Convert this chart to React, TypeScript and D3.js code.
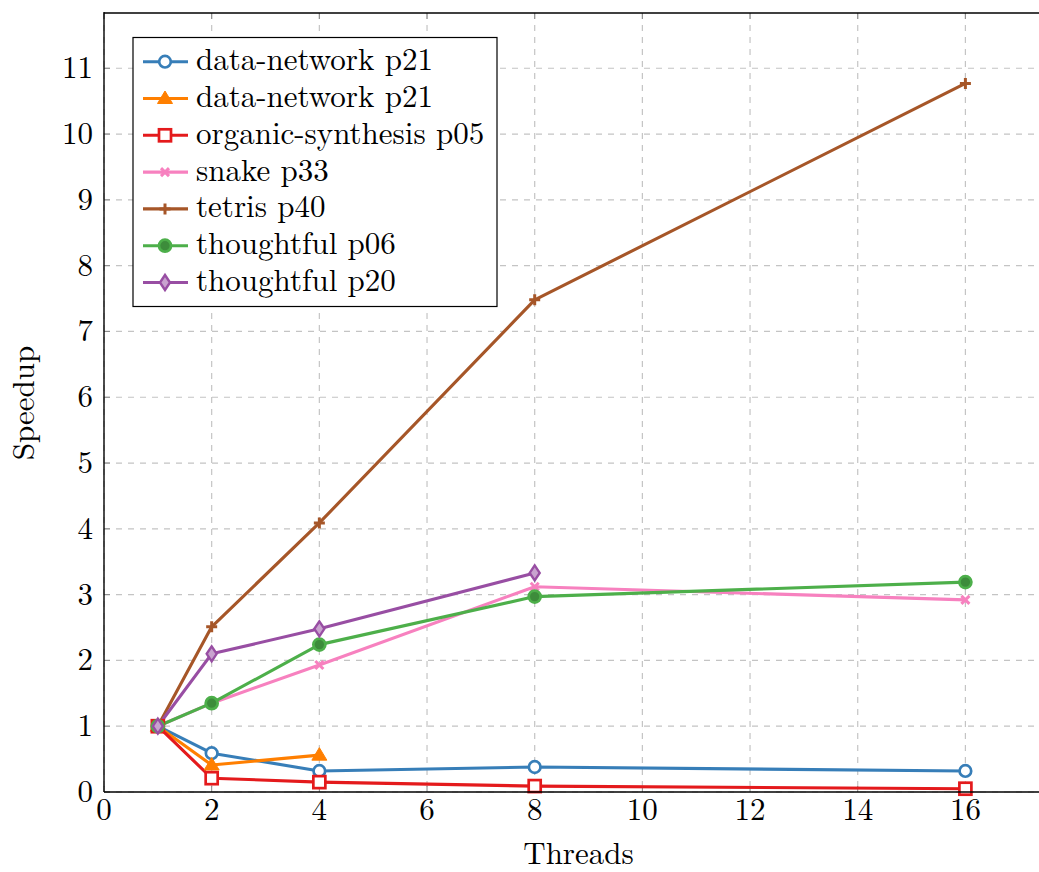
import React from "react";
import * as d3 from "d3";

const threads = [1, 2, 4, 8, 16];
const dataNetworkA = [1, 0.59, 0.32, 0.38, 0.32];
const dataNetworkB = [1, 0.41, 0.56];
const organicSynthesis = [1, 0.21, 0.15, 0.09, 0.05];
const snake = [1, 1.35, 1.93, 3.12, 2.92];
const tetris = [1, 2.51, 4.09, 7.48, 10.77];
const thoughtful06 = [1, 1.35, 2.24, 2.97, 3.19];
const thoughtful20 = [1, 2.1, 2.48, 3.33];

const xTicks = [0, 2, 4, 6, 8, 10, 12, 14, 16];
const yTicks = [0, 1, 2, 3, 4, 5, 6, 7, 8, 9, 10, 11];

type Series = { name: string; values: number[]; color: string; marker: string };
const series: Series[] = [
  { name: "data-network p21", values: dataNetworkA, color: "#377eb8", marker: "circleOpen" },
  { name: "data-network p21", values: dataNetworkB, color: "#ff7f00", marker: "triangle" },
  { name: "organic-synthesis p05", values: organicSynthesis, color: "#e41a1c", marker: "squareOpen" },
  { name: "snake p33", values: snake, color: "#f781bf", marker: "x" },
  { name: "tetris p40", values: tetris, color: "#a65628", marker: "plus" },
  { name: "thoughtful p06", values: thoughtful06, color: "#4daf4a", marker: "circle" },
  { name: "thoughtful p20", values: thoughtful20, color: "#984ea3", marker: "diamond" },
];

const FONT = `"Latin Modern Roman", "Liberation Serif", serif`;
const FS = 31;

function Marker({ kind, x, y, color }: { kind: string; x: number; y: number; color: string }) {
  switch (kind) {
    case "circleOpen":
      return <circle cx={x} cy={y} r={5.8} fill="white" stroke={color} strokeWidth={2.7} />;
    case "triangle":
      return <path d={`M${x},${y - 7.5} L${x + 7.5},${y + 5} L${x - 7.5},${y + 5} Z`} fill={color} stroke={color} strokeWidth={1} />;
    case "squareOpen":
      return <rect x={x - 6} y={y - 6} width={12} height={12} fill="white" stroke={color} strokeWidth={2.7} />;
    case "x":
      return <path d={`M${x - 4},${y - 4} L${x + 4},${y + 4} M${x - 4},${y + 4} L${x + 4},${y - 4}`} stroke={color} strokeWidth={3} />;
    case "plus":
      return <path d={`M${x - 5.5},${y} L${x + 5.5},${y} M${x},${y - 5.5} L${x},${y + 5.5}`} stroke={color} strokeWidth={3} />;
    case "circle":
      return <circle cx={x} cy={y} r={6} fill="#3d8c3b" stroke={color} strokeWidth={2.7} />;
    case "diamond":
      return <path d={`M${x},${y - 7.5} L${x + 5},${y} L${x},${y + 7.5} L${x - 5},${y} Z`} fill="#c9a3cf" stroke={color} strokeWidth={2.4} />;
    default:
      return null;
  }
}

export default function App() {
  const W = 1039, H = 872;
  const left = 104, right = 1037, top = 13, bottom = 792;
  const x = d3.scaleLinear().domain([0, 17.33]).range([left, right]);
  const y = d3.scaleLinear().domain([0, 11.84]).range([bottom, top]);
  const line = d3.line<[number, number]>().x((d) => x(d[0])).y((d) => y(d[1]));

  const legX = 133, legY = 37.5, legW = 364, legRow = 36.8;
  const txt = { fontFamily: FONT };

  return (
    <svg width={W} height={H} style={{ position: "absolute", left: 0, top: 0, fontFamily: FONT }}>
      <rect width={W} height={H} fill="white" />
      <defs>
        <clipPath id="plot">
          <rect x={left} y={top} width={right - left + 5} height={bottom - top} />
        </clipPath>
      </defs>
      {xTicks.map((t) => (
        <line key={"gx" + t} x1={x(t)} x2={x(t)} y1={top} y2={bottom} stroke="#c4c4c4" strokeWidth={1.2} strokeDasharray="6,6" />
      ))}
      {yTicks.map((t) => (
        <line key={"gy" + t} x1={left} x2={W} y1={y(t)} y2={y(t)} stroke="#c4c4c4" strokeWidth={1.2} strokeDasharray="6,6" />
      ))}
      {xTicks.map((t) => (
        <g key={"tx" + t}>
          <line x1={x(t)} x2={x(t)} y1={bottom} y2={bottom - 6} stroke="#888" strokeWidth={1} />
          <line x1={x(t)} x2={x(t)} y1={top} y2={top + 6} stroke="#888" strokeWidth={1} />
        </g>
      ))}
      {yTicks.map((t) => (
        <line key={"ty" + t} x1={left} x2={left + 6} y1={y(t)} y2={y(t)} stroke="#888" strokeWidth={1} />
      ))}
      <g clipPath="url(#plot)">
        {series.map((s, i) => {
          const pts: [number, number][] = s.values.map((v, j) => [threads[j], v]);
          return (
            <path key={"l" + i} d={line(pts) || ""} fill="none" stroke={s.color} strokeWidth={3.1} strokeLinejoin="round" />
          );
        })}
      </g>
      {series.map((s, i) => (
        <g key={"m" + i}>
          {s.values.map((v, j) => (
            <Marker key={j} kind={s.marker} x={x(threads[j])} y={y(v)} color={s.color} />
          ))}
        </g>
      ))}
      <line x1={left} x2={left} y1={top - 1} y2={bottom} stroke="black" strokeWidth={1.4} />
      <line x1={left} x2={W} y1={bottom} y2={bottom} stroke="black" strokeWidth={1.4} />
      <line x1={left} x2={W} y1={top} y2={top} stroke="black" strokeWidth={1.4} />
      {xTicks.map((t) => (
        <text key={"xl" + t} x={x(t)} y={bottom + 28} textAnchor="middle" fontSize={FS} fill="black" style={txt}>
          {t}
        </text>
      ))}
      {yTicks.map((t) => (
        <text key={"yl" + t} x={left - 11} y={y(t) + 10} textAnchor="end" fontSize={FS} fill="black" style={txt}>
          {t}
        </text>
      ))}
      <text x={(left + right) / 2 + 8} y={864} textAnchor="middle" fontSize={FS} fill="black" style={txt}>Threads</text>
      <text transform={`translate(34, 403) rotate(-90)`} textAnchor="middle" fontSize={FS} fill="black" style={txt}>Speedup</text>
      <rect x={legX} y={legY} width={legW} height={269} fill="white" stroke="black" strokeWidth={1.2} />
      {series.map((s, i) => {
        const cy = legY + 24.2 + i * legRow;
        return (
          <g key={"lg" + i}>
            <line x1={legX + 10} x2={legX + 55} y1={cy} y2={cy} stroke={s.color} strokeWidth={3.1} />
            <Marker kind={s.marker} x={legX + 32} y={cy} color={s.color} />
            <text x={legX + 63} y={cy + 8.5} fontSize={FS} fill="black" style={txt}>{s.name}</text>
          </g>
        );
      })}
    </svg>
  );
}
